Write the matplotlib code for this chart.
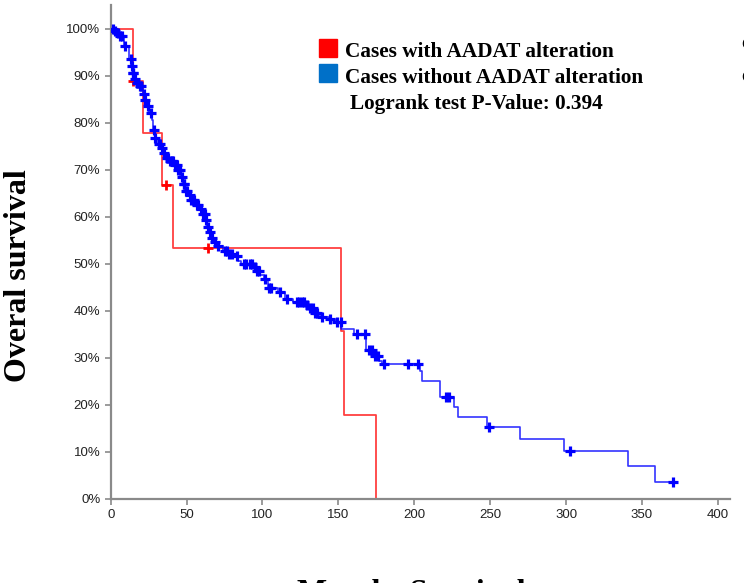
import numpy as np
import matplotlib
matplotlib.use("Agg")
import matplotlib.pyplot as plt

# ---------------- data ----------------
# Cases with alteration (red): step times (months) and survival after each step
red_times = [0, 14.7, 21.5, 33.8, 41.3, 151.6, 153.4, 175.0]
red_surv = [1.000, 0.889, 0.778, 0.667, 0.533, 0.356, 0.178, 0.000]
red_cens_t = [14.9, 36.5, 64.4]

# Cases without alteration (blue)
blue_times = [0, 2, 4, 6, 9, 12, 13.5, 14.5, 15.5, 17, 19, 21, 22.5, 24, 25.5, 27,
              28, 29, 31, 33, 34.5, 36, 39, 42, 44, 46, 47.5, 49, 51, 53, 55.5, 58,
              60.5, 62, 63.5, 65, 66.5, 68, 70, 74, 77, 80, 84, 86, 94, 96, 98, 101,
              103.5, 110, 115, 120, 129, 131, 134, 138, 144, 148, 152, 160, 168.5,
              173.5, 177, 179, 203.6, 205.1, 217.2, 226.0, 228.9, 247.6, 269.5,
              298.6, 340.8, 358.4, 370.7]
blue_surv = [1.000, 0.995, 0.990, 0.985, 0.962, 0.935, 0.920, 0.905, 0.893, 0.885,
             0.877, 0.860, 0.848, 0.835, 0.820, 0.805, 0.785, 0.768, 0.755, 0.745,
             0.735, 0.725, 0.718, 0.710, 0.700, 0.685, 0.670, 0.655, 0.645, 0.635,
             0.625, 0.615, 0.605, 0.592, 0.578, 0.568, 0.555, 0.545, 0.537, 0.527,
             0.520, 0.515, 0.505, 0.498, 0.492, 0.485, 0.475, 0.468, 0.448, 0.440,
             0.425, 0.418, 0.412, 0.405, 0.395, 0.387, 0.382, 0.375, 0.360, 0.350,
             0.317, 0.303, 0.292, 0.287, 0.271, 0.251, 0.216, 0.194, 0.173, 0.152,
             0.127, 0.101, 0.069, 0.035, 0.035]
blue_cens_t = [1.5, 3, 4.5, 6, 7.5, 9.6, 13.4, 13.8, 14.5, 15, 16, 17, 18, 19.3, 20,
               22, 22.5, 24.8, 26.6, 28.8, 29.5, 32, 32.5, 34, 35, 36.9, 38, 39, 40.2,
               41, 42.4, 43.5, 44.6, 45.5, 46.8, 48, 48.5, 49.7, 50.5, 52.3, 53, 54.1,
               55, 56.7, 57.5, 59.6, 60.5, 61.8, 63, 64.4, 65.5, 66.6, 68.8, 71, 75,
               76.5, 78, 79.8, 83.1, 87.5, 89, 91.9, 93, 95.2, 96.3, 97.4, 101.8, 104.6,
               105.5, 111.7, 116.1, 122.7, 124, 126, 127.5, 129.3, 131.5, 133, 134.8,
               136, 139.2, 144.7, 149.1, 151.7, 162.3, 167.3, 170, 172.2, 174.3, 176,
               179.8, 195.9, 202.5, 221, 223.2, 249.1, 302.5, 370.7]

x_ticks = [0, 50, 100, 150, 200, 250, 300, 350, 400]
y_ticks = [0, 0.1, 0.2, 0.3, 0.4, 0.5, 0.6, 0.7, 0.8, 0.9, 1.0]
y_tick_labels = ["0%", "10%", "20%", "30%", "40%", "50%", "60%", "70%", "80%", "90%", "100%"]

legend_labels = ["Cases with AADAT alteration", "Cases without AADAT alteration"]
pvalue_text = "Logrank test P-Value: 0.394"
x_label = "Months Survival"
y_label = "Overal survival"


def surv_at(times, surv, t):
    idx = np.searchsorted(np.asarray(times), np.asarray(t), side="right") - 1
    return np.asarray(surv)[idx]


# ---------------- figure ----------------
W, H = 744, 583
fig = plt.figure(figsize=(W / 100, H / 100), dpi=100)
ax = fig.add_axes([110.7 / W, 1 - 498.5 / H, (730 - 110.7) / W, (498.5 - 5) / H])

red_col = "#ff0000"
blue_col = "#0000ff"

ax.step(red_times, red_surv, where="post", color=red_col, lw=1.3, alpha=0.75, zorder=2)
ax.plot(red_cens_t, surv_at(red_times, red_surv, red_cens_t), ls="none", marker="+",
        ms=7, mew=2, color=red_col, zorder=3)

ax.step(blue_times, blue_surv, where="post", color=blue_col, lw=1.2, alpha=0.8, zorder=4)
ax.plot(blue_cens_t, surv_at(blue_times, blue_surv, blue_cens_t), ls="none", marker="+",
        ms=7, mew=2.3, color=blue_col, zorder=5)

ax.set_xlim(0, 408)
ax.set_ylim(0, 1.05)
ax.set_xticks(x_ticks)
ax.set_xticklabels([str(v) for v in x_ticks])
ax.set_yticks(y_ticks)
ax.set_yticklabels(y_tick_labels)

for s in ["top", "right"]:
    ax.spines[s].set_visible(False)
for s in ["left", "bottom"]:
    ax.spines[s].set_color("#8a8a8a")
    ax.spines[s].set_linewidth(1.6)
ax.tick_params(axis="both", colors="#8a8a8a", length=4, width=1.2, direction="out",
               labelsize=9.5, labelcolor="#222222")
for lab in ax.get_xticklabels() + ax.get_yticklabels():
    lab.set_family(["Liberation Sans", "DejaVu Sans"])

serif = ["Liberation Serif", "DejaVu Serif"]

# legend (manual)
fig.patches.append(plt.Rectangle((319.3 / W, 1 - 57 / H), 18 / W, 18 / H,
                                 transform=fig.transFigure, color="#ff0000", zorder=10))
fig.patches.append(plt.Rectangle((319.3 / W, 1 - 82 / H), 18 / W, 18 / H,
                                 transform=fig.transFigure, color="#0070c8", zorder=10))
fs_leg = 15.3
fig.text(345 / W, 1 - 57 / H, legend_labels[0], family=serif, weight="bold",
         fontsize=fs_leg, va="baseline", ha="left")
fig.text(345 / W, 1 - 83 / H, legend_labels[1], family=serif, weight="bold",
         fontsize=fs_leg, va="baseline", ha="left")
fig.text(350 / W, 1 - 108.5 / H, pvalue_text, family=serif, weight="bold",
         fontsize=fs_leg, va="baseline", ha="left")

# cut-off fragments at right edge
fig.text(741 / W, 1 - 49 / H, "Censored", family=serif, weight="bold",
         fontsize=12, va="baseline", ha="left")
fig.text(741 / W, 1 - 82 / H, "Censored", family=serif, weight="bold",
         fontsize=12, va="baseline", ha="left")

# axis labels
fig.text(19 / W, 1 - 276 / H, y_label, family=serif, weight="bold", fontsize=23,
         rotation=90, va="center", ha="center")
fig.text(297 / W, 1 - 579 / H, x_label, family=serif, weight="bold", fontsize=23,
         va="top", ha="left")

fig.savefig("out.png", dpi=100)
